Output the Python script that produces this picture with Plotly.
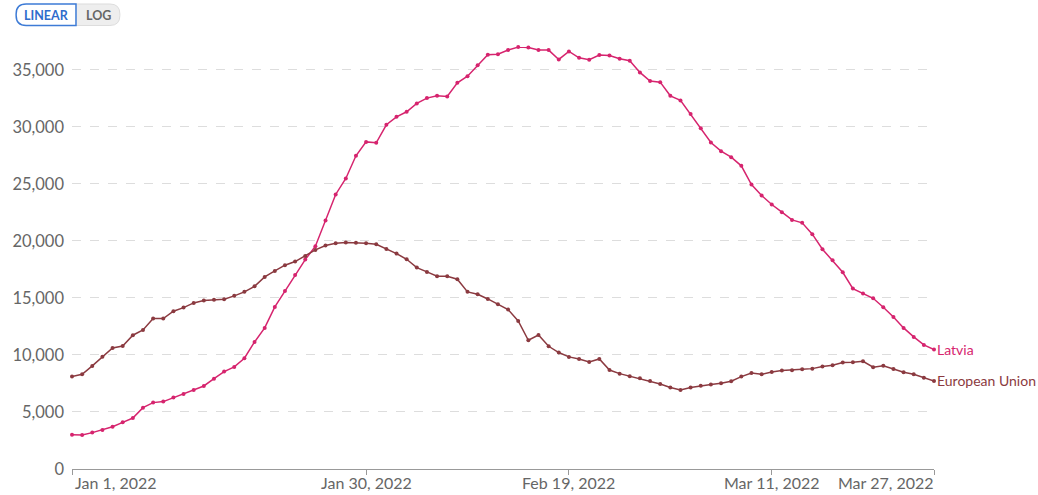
import pandas as pd
import plotly.graph_objects as go

# daily values, Jan 1 2022 .. Mar 27 2022
dates = pd.date_range('2022-01-01', '2022-03-27', freq='D')

latvia = [
    3010, 2980, 3190, 3420, 3710, 4090, 4470, 5380, 5820, 5910,
    6260, 6580, 6930, 7280, 7920, 8540, 8950, 9710, 11140, 12370,
    14210, 15610, 17020, 18360, 19530, 21780, 24070, 25470, 27460, 28680,
    28600, 30180, 30880, 31320, 32050, 32520, 32720, 32660, 33860, 34440,
    35410, 36320, 36370, 36730, 36990, 36960, 36730, 36730, 35910, 36610,
    36050, 35880, 36290, 36260, 35970, 35790, 34770, 34010, 33920, 32720,
    32320, 31120, 29870, 28630, 27870, 27340, 26580, 24940, 23980, 23190,
    22520, 21840, 21580, 20590, 19270, 18300, 17250, 15820, 15380, 14970,
    14180, 13330, 12370, 11580, 10880, 10470,
]

eu = [
    8100, 8300, 9040, 9850, 10610, 10790, 11730, 12190, 13190, 13190,
    13830, 14150, 14560, 14770, 14850, 14880, 15180, 15530, 16020, 16840,
    17370, 17870, 18190, 18680, 19210, 19590, 19800, 19850, 19830, 19800,
    19710, 19300, 18890, 18390, 17660, 17280, 16900, 16900, 16640, 15530,
    15320, 14910, 14440, 13980, 12980, 11290, 11750, 10760, 10210, 9830,
    9650, 9390, 9650, 8680, 8360, 8130, 7950, 7720, 7460, 7140,
    6920, 7140, 7300, 7400, 7520, 7690, 8100, 8420, 8300, 8510,
    8630, 8660, 8740, 8800, 8980, 9090, 9330, 9360, 9440, 8920,
    9060, 8770, 8480, 8300, 8010, 7720,
]

names = ['Latvia', 'European Union']
colors = ['#d6246e', '#8b3a40']
series = [latvia, eu]

xtick_dates = ['2022-01-01', '2022-01-30', '2022-02-19', '2022-03-11', '2022-03-27']
xtick_text = ['Jan 1, 2022', 'Jan 30, 2022', 'Feb 19, 2022', 'Mar 11, 2022', 'Mar 27, 2022']
ytick_vals = [0, 5000, 10000, 15000, 20000, 25000, 30000, 35000]

FONT = 'Lato, "DejaVu Sans", sans-serif'

# body margin is removed in the page (post_script), so window px == figure px
PLOT_X0, PLOT_X1, PLOT_Y0, PLOT_Y1 = 70, 934, 47, 469   # plot area in pixels
WIDTH, HEIGHT = 1038, 495
PW, PH = PLOT_X1 - PLOT_X0, PLOT_Y1 - PLOT_Y0
L, T = PLOT_X0, PLOT_Y0
R, B = WIDTH - L - PW, HEIGHT - T - PH

def topaper(x, y):
    """ pixel position -> paper coords """
    return (x - PLOT_X0) / PW, (PLOT_Y1 - y) / PH

def rpath(x0, y0, x1, y1, rl, rr):
    """ rounded rectangle path, left radius rl, right radius rr (pixels) """
    pts = [('M', [(x0 + rl, y0)]), ('L', [(x1 - rr, y0)]),
           ('Q', [(x1, y0), (x1, y0 + rr)]), ('L', [(x1, y1 - rr)]),
           ('Q', [(x1, y1), (x1 - rr, y1)]), ('L', [(x0 + rl, y1)]),
           ('Q', [(x0, y1), (x0, y1 - rl)]), ('L', [(x0, y0 + rl)]),
           ('Q', [(x0, y0), (x0 + rl, y0)])]
    out = []
    for cmd, pp in pts:
        out.append(cmd + ' ' + ' '.join('%.5f,%.5f' % topaper(px, py) for px, py in pp))
    return ' '.join(out) + ' Z'

fig = go.Figure()

for name, vals, col in zip(names, series, colors):
    fig.add_trace(go.Scatter(
        x=dates, y=vals, name=name, mode='lines+markers',
        line=dict(color=col, width=1.5),
        marker=dict(color=col, size=4),
        cliponaxis=False,
    ))
    fig.add_annotation(
        x=dates[-1], y=vals[-1], text=name, showarrow=False,
        xanchor='left', yanchor='middle', xshift=1,
        font=dict(family=FONT, size=14, color=col),
    )

# x tick labels (first left aligned, last right aligned)
for i, (d, t) in enumerate(zip(xtick_dates, xtick_text)):
    anchor, shift = 'center', 0
    if i == 0:
        anchor, shift = 'left', 1
    elif i == len(xtick_dates) - 1:
        anchor, shift = 'right', 2
    fig.add_annotation(
        x=d, y=0, yref='paper', text=t, showarrow=False,
        xanchor=anchor, yanchor='top', yshift=-2, xshift=shift,
        font=dict(family=FONT, size=16, color='#666666'),
    )

# LINEAR / LOG toggle look-alike
fig.add_shape(type='path', xref='paper', yref='paper',
              path=rpath(60, 4, 118, 25.5, 10, 10),
              fillcolor='#eeeeee', line=dict(color='#dddddd', width=1))
fig.add_shape(type='path', xref='paper', yref='paper',
              path=rpath(14, 4, 74, 25.5, 10, 0),
              fillcolor='white', line=dict(color='#3d7bd6', width=1.5))
for txt, px, col in [('LINEAR', 44.5, '#2f6ccc'), ('LOG', 96.5, '#666666')]:
    xp, yp = topaper(px, 15)
    fig.add_annotation(x=xp, y=yp, xref='paper', yref='paper', text='<b>%s</b>' % txt,
                       showarrow=False, xanchor='center', yanchor='middle',
                       font=dict(family=FONT, size=12.5, color=col))

fig.update_layout(
    width=WIDTH, height=HEIGHT,
    margin=dict(l=L, r=R, t=T, b=B),
    plot_bgcolor='white', paper_bgcolor='white',
    showlegend=False,
    font=dict(family=FONT, color='#666666'),
)
fig.update_xaxes(
    range=[dates[0], dates[-1]],
    tickvals=xtick_dates, showticklabels=False,
    showgrid=False, zeroline=False,
    showline=True, linecolor='#999999', linewidth=1,
    ticks='outside', ticklen=5, tickcolor='#999999',
)
fig.update_yaxes(
    range=[0, 37000],
    tickvals=ytick_vals, tickformat=',d',
    tickfont=dict(family=FONT, size=16.5, color='#666666'),
    ticklabelstandoff=7,
    showgrid=True, gridcolor='#dddddd', griddash='dash', gridwidth=1,
    zeroline=False, showline=False, ticks='',
)

fig.write_html("out.html", config={'displayModeBar': False},
               post_script="document.body.style.margin='0';document.body.style.overflow='hidden';")
